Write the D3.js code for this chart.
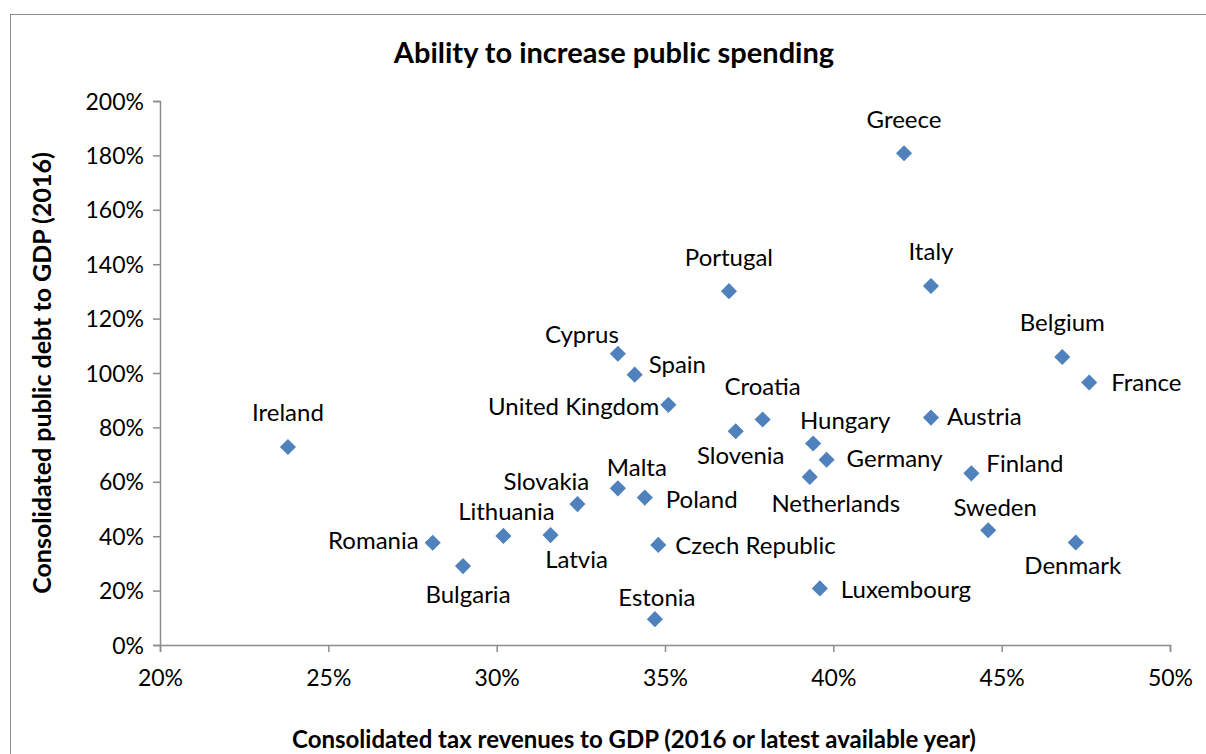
<!DOCTYPE html>
<html lang="en">
<head>
<meta charset="utf-8">
<title>Ability to increase public spending</title>
<script src="https://d3js.org/d3.v7.min.js"></script>
<style>
  body { margin: 0; background: #fff; }
  text { font-family: Lato, "Open Sans", sans-serif; fill: #000; }
</style>
</head>
<body>
<div id="chart"></div>
<script>
// data (in %)
const countries = ["Greece", "Italy", "Portugal", "Belgium", "France", "Cyprus", "Spain",
  "United Kingdom", "Croatia", "Austria", "Ireland", "Slovenia", "Hungary", "Germany",
  "Netherlands", "Finland", "Malta", "Poland", "Slovakia", "Sweden", "Lithuania", "Latvia",
  "Romania", "Czech Republic", "Denmark", "Bulgaria", "Luxembourg", "Estonia"];
const taxRevenue = [42.1, 42.9, 36.9, 46.8, 47.6, 33.6, 34.1,
  35.1, 37.9, 42.9, 23.8, 37.1, 39.4, 39.8,
  39.3, 44.1, 33.6, 34.4, 32.4, 44.6, 30.2, 31.6,
  28.1, 34.8, 47.2, 29.0, 39.6, 34.7];
const publicDebt = [180.8, 132.0, 130.1, 105.9, 96.5, 107.1, 99.4,
  88.3, 82.9, 83.6, 72.8, 78.6, 74.1, 68.1,
  61.8, 63.1, 57.6, 54.2, 51.8, 42.2, 40.1, 40.4,
  37.6, 36.8, 37.7, 29.0, 20.8, 9.5];
const xTicks = [20, 25, 30, 35, 40, 45, 50];
const yTicks = [0, 20, 40, 60, 80, 100, 120, 140, 160, 180, 200];

// where each data label sits relative to its marker: [dx, dy, anchor]
const labelPlace = {
  "Greece": [0, -34, "middle"], "Italy": [0, -34, "middle"], "Portugal": [0, -34, "middle"],
  "Belgium": [0, -34, "middle"], "France": [22, 0, "start"], "Cyprus": [-36, -19, "middle"],
  "Spain": [14, -10, "start"], "United Kingdom": [-9, 2, "end"], "Croatia": [0, -33, "middle"],
  "Austria": [16, -1, "start"], "Ireland": [0, -34, "middle"], "Slovenia": [5, 24, "middle"],
  "Hungary": [32, -23, "middle"], "Germany": [20, -1, "start"], "Netherlands": [26, 27, "middle"],
  "Finland": [15, -10, "start"], "Malta": [19, -21, "middle"], "Poland": [21, 2, "start"],
  "Slovakia": [-31, -23, "middle"], "Sweden": [7, -23, "middle"], "Lithuania": [3, -24, "middle"],
  "Latvia": [26, 24, "middle"], "Romania": [-14, -2, "end"], "Czech Republic": [17, 1, "start"],
  "Denmark": [-3, 23, "middle"], "Bulgaria": [5, 28, "middle"], "Luxembourg": [21, 1, "start"],
  "Estonia": [2, -22, "middle"]
};

const W = 1206, H = 754;
const margin = {top: 101, right: 36, bottom: 109, left: 160};
const width = W - margin.left - margin.right,
      height = H - margin.top - margin.bottom;

const svg = d3.select("#chart").append("svg")
  .attr("width", W).attr("height", H);

// chart frame
svg.append("rect")
  .attr("x", 10.5).attr("y", 14.5)
  .attr("width", W).attr("height", H)
  .attr("fill", "none").attr("stroke", "#8c8c8c").attr("stroke-width", 1);

const g = svg.append("g")
  .attr("transform", `translate(${margin.left},${margin.top})`);

const x = d3.scaleLinear().domain([20, 50]).range([0, width]);
const y = d3.scaleLinear().domain([0, 200]).range([height, 0]);

const xAxis = g.append("g")
  .attr("transform", `translate(0,${height})`)
  .call(d3.axisBottom(x).tickValues(xTicks).tickSize(7).tickPadding(18).tickFormat(d => d + "%"));
const yAxis = g.append("g")
  .call(d3.axisLeft(y).tickValues(yTicks).tickSize(7).tickPadding(9).tickFormat(d => d + "%"));

[xAxis, yAxis].forEach(a => {
  a.select(".domain").attr("stroke", "#8c8c8c").attr("stroke-width", 1.5);
  a.selectAll(".tick line").attr("stroke", "#8c8c8c").attr("stroke-width", 1.5);
  a.selectAll(".tick text").style("font-family", "Lato, sans-serif").attr("font-size", 23).attr("fill", "#000");
});
yAxis.selectAll(".tick text").attr("dy", "0.35em");

const points = countries.map((c, i) => ({name: c, tx: taxRevenue[i], debt: publicDebt[i]}));

// diamond markers
g.selectAll(".pt")
  .data(points)
  .join("path")
  .attr("class", "pt")
  .attr("d", d3.symbol().type(d3.symbolSquare).size(130))
  .attr("transform", d => `translate(${x(d.tx)},${y(d.debt)}) rotate(45)`)
  .attr("fill", "#4f81bd");

// data labels
g.selectAll(".lbl")
  .data(points)
  .join("text")
  .attr("class", "lbl")
  .attr("x", d => x(d.tx) + labelPlace[d.name][0])
  .attr("y", d => y(d.debt) + labelPlace[d.name][1])
  .attr("dy", "0.35em")
  .attr("text-anchor", d => labelPlace[d.name][2])
  .attr("font-size", 24)
  .text(d => d.name);

// titles
svg.append("text")
  .attr("x", 614).attr("y", 63)
  .attr("text-anchor", "middle")
  .attr("font-size", 29).attr("font-weight", "bold")
  .text("Ability to increase public spending");

svg.append("text")
  .attr("x", 634).attr("y", 748)
  .attr("text-anchor", "middle")
  .attr("font-size", 24).attr("font-weight", "bold")
  .text("Consolidated tax revenues to GDP (2016 or latest available year)");

svg.append("text")
  .attr("transform", "translate(51,373) rotate(-90)")
  .attr("text-anchor", "middle")
  .attr("font-size", 25).attr("font-weight", "bold")
  .text("Consolidated public debt to GDP (2016)");
</script>
</body>
</html>
